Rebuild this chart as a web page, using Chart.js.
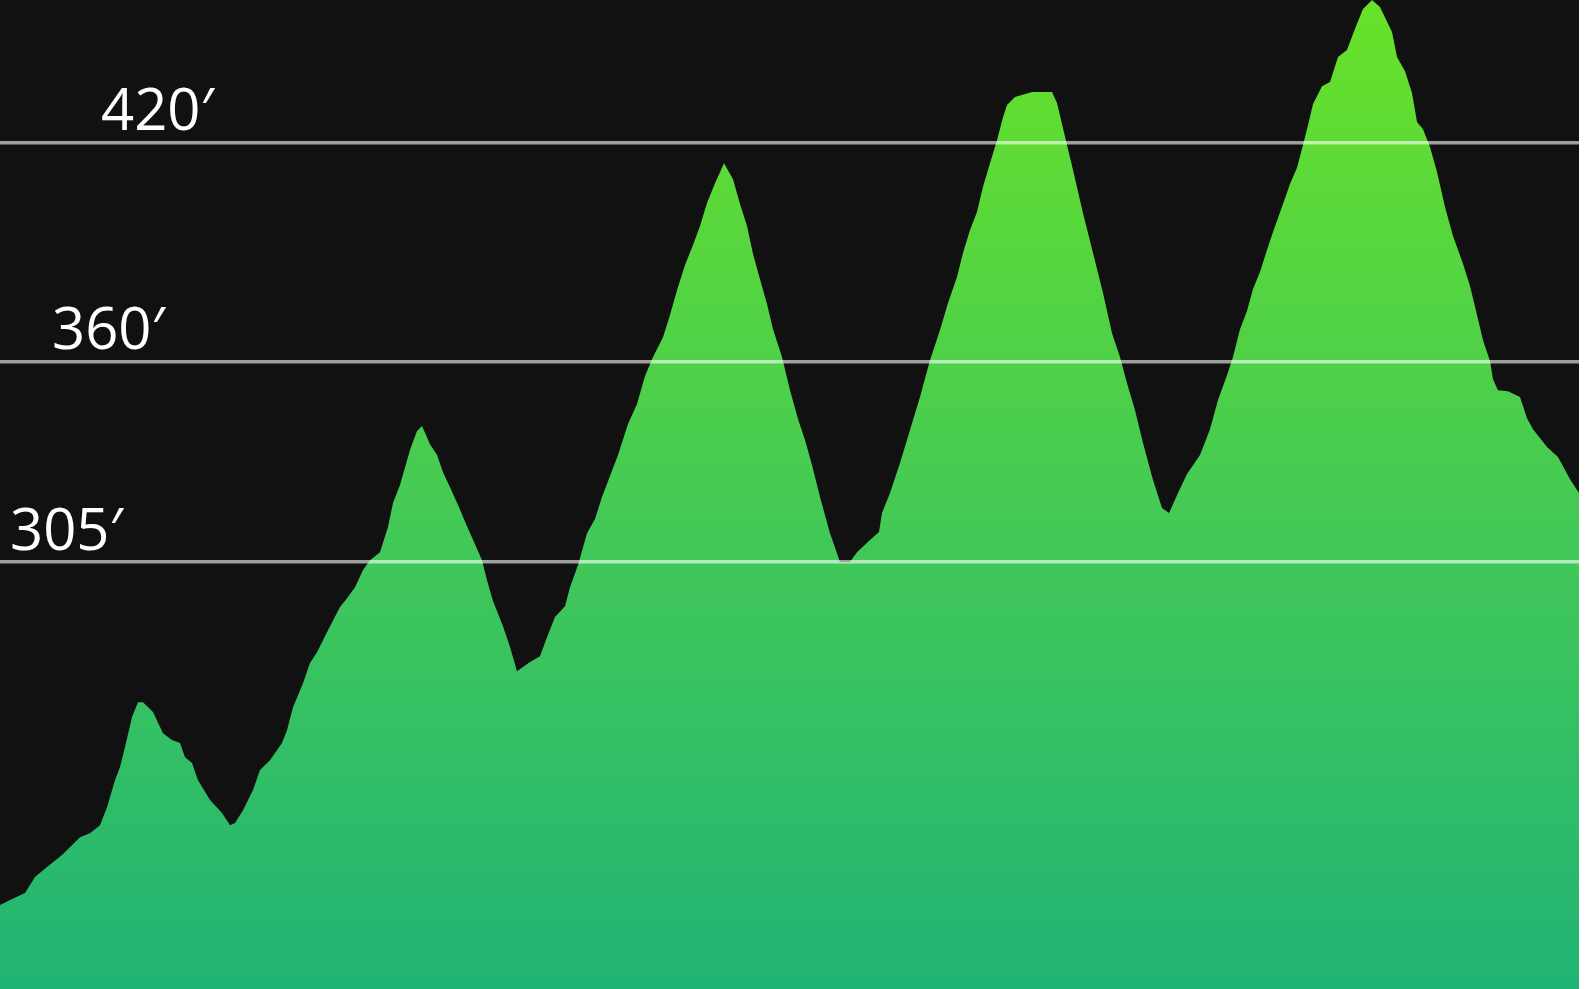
<!DOCTYPE html>
<html lang="en">
<head>
    <meta charset="UTF-8">
    <title>Elevation Profile</title>
    <script src="https://cdn.jsdelivr.net/npm/chart.js"></script>
    <style>
        body {
            margin: 0;
            background: #fff;
            overflow: hidden;
        }
        .chart-box {
            position: relative;
            width: 1579px;
            height: 989px;
            background: #111111;
        }
    </style>
</head>
<body>
    <div class="chart-box">
        <canvas id="profile"></canvas>
    </div>

    <script>
        // distance along the course (m) and elevation (ft)
        const distance = [
            0, 20, 50, 70, 94, 124, 160, 180, 200, 214,
            230, 240, 250, 264, 276, 286, 306, 326, 344, 360,
            370, 384, 396, 420, 444, 460, 470, 486, 506, 520,
            540, 564, 574, 586, 606, 620, 634, 656, 680, 694,
            710, 726, 740, 760, 776, 786, 800, 820, 834, 844,
            860, 874, 886, 900, 916, 934, 950, 964, 974, 986,
            1006, 1020, 1034, 1060, 1080, 1094, 1110, 1130, 1140, 1156,
            1174, 1190, 1204, 1220, 1236, 1256, 1274, 1290, 1306, 1326,
            1340, 1354, 1370, 1386, 1400, 1414, 1430, 1448, 1466, 1480,
            1494, 1506, 1520, 1534, 1546, 1564, 1580, 1596, 1610, 1624,
            1640, 1660, 1680, 1700, 1714, 1740, 1758, 1764, 1780, 1800,
            1820, 1840, 1860, 1880, 1896, 1914, 1926, 1940, 1954, 1966,
            1980, 1994, 2006, 2014, 2030, 2064, 2104, 2114, 2134, 2146,
            2166, 2186, 2206, 2224, 2240, 2254, 2270, 2286, 2306, 2324,
            2338, 2356, 2374, 2400, 2420, 2436, 2454, 2466, 2480, 2494,
            2506, 2520, 2534, 2546, 2566, 2580, 2594, 2606, 2616, 2626,
            2644, 2660, 2676, 2694, 2710, 2726, 2744, 2760, 2784, 2794,
            2810, 2824, 2834, 2846, 2860, 2874, 2890, 2906, 2926, 2940,
            2954, 2966, 2980, 2986, 2996, 3016, 3040, 3054, 3066, 3094,
            3116, 3140, 3158
        ];
        const elevation = [
            211.0, 212.4, 214.3, 218.7, 221.4, 224.7, 229.6, 230.7, 232.9, 237.8,
            245.2, 248.8, 254.3, 262.5, 266.6, 266.6, 263.9, 258.1, 256.2, 255.4,
            251.5, 249.9, 245.2, 239.8, 236.2, 232.9, 233.5, 237.0, 242.5, 248.0,
            250.7, 255.4, 258.9, 265.2, 271.8, 277.3, 280.3, 286.3, 292.7, 295.1,
            298.1, 302.8, 305.5, 307.7, 314.6, 321.2, 326.1, 335.7, 340.9, 342.3,
            337.3, 334.3, 329.6, 325.5, 320.6, 314.8, 309.9, 305.5, 300.0, 294.3,
            287.4, 281.7, 275.1, 277.6, 279.2, 284.4, 289.9, 292.9, 298.1, 304.2,
            312.9, 316.8, 322.8, 328.6, 334.3, 342.8, 348.3, 356.0, 361.2, 366.6,
            372.7, 379.5, 386.4, 391.9, 397.1, 403.4, 408.8, 414.3, 409.9, 403.1,
            397.1, 389.4, 382.5, 375.7, 368.8, 361.2, 352.1, 344.2, 338.4, 331.6,
            322.8, 312.9, 305.0, 305.0, 307.7, 311.0, 313.2, 318.4, 323.9, 332.1,
            341.2, 350.2, 360.3, 368.6, 376.0, 383.1, 389.7, 396.0, 400.9, 407.8,
            414.3, 420.6, 426.9, 430.2, 432.4, 433.8, 433.8, 430.8, 419.3, 412.4,
            400.6, 389.7, 378.7, 367.7, 361.2, 354.0, 346.6, 337.6, 327.5, 319.8,
            318.4, 323.9, 329.1, 334.3, 341.4, 349.4, 356.2, 361.2, 368.8, 373.8,
            379.8, 384.5, 390.5, 395.4, 403.1, 408.6, 413.0, 419.3, 424.7, 430.5,
            435.4, 436.5, 443.4, 445.3, 451.1, 456.5, 459.0, 457.1, 450.2, 443.4,
            439.5, 433.5, 425.6, 423.6, 418.7, 411.9, 402.3, 394.3, 386.7, 380.6,
            372.7, 365.8, 360.1, 355.1, 352.1, 351.8, 350.2, 344.4, 341.4, 336.5,
            333.8, 327.7, 323.9
        ];
        const tickValues = [305, 360, 420];
        const tickLabels = ['305\u2032', '360\u2032', '420\u2032'];

        const labelX = { 305: 10, 360: 52, 420: 101 };

        const elevationLabels = {
            id: 'elevationLabels',
            afterDraw(chart) {
                const ctx = chart.ctx;
                const y = chart.scales.y;
                ctx.save();
                ctx.fillStyle = '#ffffff';
                ctx.font = '58px "Open Sans", "DejaVu Sans", sans-serif';
                ctx.textBaseline = 'alphabetic';
                tickValues.forEach((v, i) => {
                    ctx.fillText(tickLabels[i], labelX[v], y.getPixelForValue(v) - 12);
                });
                ctx.restore();
            }
        };

        const ctx = document.getElementById('profile').getContext('2d');
        new Chart(ctx, {
            type: 'line',
            data: {
                datasets: [{
                    data: distance.map((d, i) => ({ x: d, y: elevation[i] })),
                    borderWidth: 0,
                    pointRadius: 0,
                    tension: 0,
                    fill: 'start',
                    backgroundColor: (c) => {
                        const area = c.chart.chartArea;
                        if (!area) return '#44cb50';
                        const g = c.chart.ctx.createLinearGradient(0, area.top, 0, area.bottom);
                        g.addColorStop(0, '#68e228');
                        g.addColorStop(0.55, '#42c858');
                        g.addColorStop(1, '#20b474');
                        return g;
                    }
                }]
            },
            options: {
                responsive: true,
                maintainAspectRatio: false,
                animation: false,
                layout: { padding: 0 },
                plugins: {
                    legend: { display: false },
                    tooltip: { enabled: false }
                },
                scales: {
                    x: {
                        type: 'linear',
                        min: 0,
                        max: 3158,
                        display: false
                    },
                    y: {
                        min: 188,
                        max: 459,
                        afterBuildTicks: (axis) => {
                            axis.ticks = tickValues.map(v => ({ value: v }));
                        },
                        afterFit: (axis) => { axis.width = 0; },
                        ticks: { display: false },
                        border: { display: false },
                        grid: {
                            z: 1,
                            color: 'rgba(255,255,255,0.6)',
                            lineWidth: 3.5,
                            drawTicks: false
                        }
                    }
                }
            },
            plugins: [elevationLabels]
        });
    </script>
</body>
</html>
